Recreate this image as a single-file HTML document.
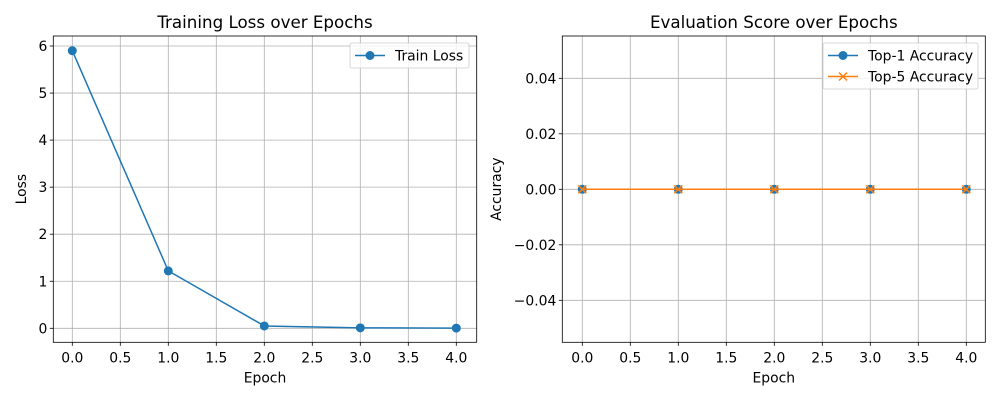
<!DOCTYPE html>
<html><head><meta charset="utf-8"><style>
body{margin:0;background:#fff}
svg{display:block;font-family:"DejaVu Sans","Liberation Sans",sans-serif}
</style></head><body>
<svg id="c" width="1000" height="400"></svg>
<script>
const epochs=[0,1,2,3,4];
const trainLoss=[5.9,1.22,0.05,0.01,0.005];
const top1=[0,0,0,0,0];
const top5=[0,0,0,0,0];
const xTicks=[0,0.5,1,1.5,2,2.5,3,3.5,4];
const lossTicks=[0,1,2,3,4,5,6];
const accTicks=[-0.04,-0.02,0,0.02,0.04];
const svg=document.getElementById('c');
const NS='http://www.w3.org/2000/svg';
const FS=13.9, TFS=16.7;
function el(t,a,p){const e=document.createElementNS(NS,t);for(const k in a)e.setAttribute(k,a[k]);(p||svg).appendChild(e);return e;}
function txt(s,a,p){const e=el('text',a,p);e.textContent=s;return e;}
function panel(o){
 const g=el('g',{});
 
 
 const X=v=>o.x0+(v-o.xmin)*(o.x1-o.x0)/(o.xmax-o.xmin);
 const Y=v=>o.y0-(v-o.ymin)*(o.y0-o.y1)/(o.ymax-o.ymin);
 xTicks.forEach(t=>{const x=X(t);
  const l=el('line',{x1:x,x2:x,y1:o.top,y2:o.bot,stroke:'#b0b0b0','stroke-width':0.8},g);
  
  el('line',{x1:x,x2:x,y1:o.bot,y2:o.bot+3.5,stroke:'#000','stroke-width':0.8},g);
  const tl=txt(t.toFixed(1),{x:x,y:o.bot+20,'text-anchor':'middle','font-size':FS,fill:'#000'},g);
  
 });
 o.yTicks.forEach(t=>{const y=Y(t);
  const l=el('line',{x1:o.left,x2:o.right,y1:y,y2:y,stroke:'#b0b0b0','stroke-width':0.8},g);
  
  el('line',{x1:o.left-3.5,x2:o.left,y1:y,y2:y,stroke:'#000','stroke-width':0.8},g);
  const tl=txt(o.fmt(t),{x:o.left-6,y:y+5,'text-anchor':'end','font-size':FS,fill:'#000'},g);
  
 });
 o.series.forEach(s=>{
  const p=el('polyline',{points:epochs.map((e,i)=>X(e)+','+Y(s.v[i])).join(' '),fill:'none',stroke:s.c,'stroke-width':1.5},g);
  
  epochs.forEach((e,i)=>{const x=X(e),y=Y(s.v[i]);
   if(s.m==='o'){const c=el('circle',{cx:x,cy:y,r:4.5,fill:s.c},g);}
   else{const m=el('path',{d:`M${x-4},${y-4}L${x+4},${y+4}M${x-4},${y+4}L${x+4},${y-4}`,stroke:s.c,'stroke-width':1.5},g);}
  });
 });
 el('rect',{x:o.left,y:o.top,width:o.right-o.left,height:o.bot-o.top,fill:'none',stroke:'#000','stroke-width':0.8},g);
 const t=txt(o.title,{x:(o.left+o.right)/2,y:o.top-8,'text-anchor':'middle','font-size':TFS},g);
 
 const xl=txt('Epoch',{x:(o.left+o.right)/2,y:o.bot+40,'text-anchor':'middle','font-size':FS},g);
 
 const yx=o.yLabelX,yy=(o.top+o.bot)/2;
 const yl=txt(o.ylabel,{x:yx,y:yy,'text-anchor':'middle','font-size':FS,transform:`rotate(-90 ${yx} ${yy})`},g);
 
 const lg=el('g',{},g);
 
 const lh=4+21*o.series.length;
 el('rect',{x:o.legX,y:o.top+7,width:o.legW,height:lh,rx:2,fill:'#fff','fill-opacity':0.8,stroke:'#ccc','stroke-width':0.8},lg);
 o.series.forEach((s,i)=>{const y=o.top+7+12.5+i*21;const lx=o.legX+5;
  el('line',{x1:lx,x2:lx+30,y1:y,y2:y,stroke:s.c,'stroke-width':1.5},lg);
  if(s.m==='o')el('circle',{cx:lx+15,cy:y,r:4.5,fill:s.c},lg);
  else el('path',{d:`M${lx+11},${y-4}L${lx+19},${y+4}M${lx+11},${y+4}L${lx+19},${y-4}`,stroke:s.c,'stroke-width':1.5},lg);
  const e=txt(s.label,{x:lx+40,y:y+5,'font-size':FS},lg);
  
 });
}
panel({name:'training-loss-chart',left:53.3,right:476.7,top:36,bot:342.3,x0:72.3,x1:456.3,xmin:0,xmax:4,y0:328.3,y1:46,ymin:0,ymax:6,
 yTicks:lossTicks,fmt:v=>String(v),title:'Training Loss over Epochs',ylabel:'Loss',yLabelX:26,legX:350,legW:119,
 series:[{name:'train-loss',v:trainLoss,c:'#1f77b4',m:'o',label:'Train Loss'}]});
panel({name:'evaluation-score-chart',left:562.3,right:985.3,top:36,bot:342.3,x0:582.3,x1:966.3,xmin:0,xmax:4,y0:189.3,y1:78.3,ymin:0,ymax:0.04,
 yTicks:accTicks,fmt:v=>(v<0?'\u2212':'')+Math.abs(v).toFixed(2),title:'Evaluation Score over Epochs',ylabel:'Accuracy',yLabelX:501,legX:823,legW:155,
 series:[{name:'top1-accuracy',v:top1,c:'#1f77b4',m:'o',label:'Top-1 Accuracy'},{name:'top5-accuracy',v:top5,c:'#ff7f0e',m:'x',label:'Top-5 Accuracy'}]});
</script>
</body></html>
